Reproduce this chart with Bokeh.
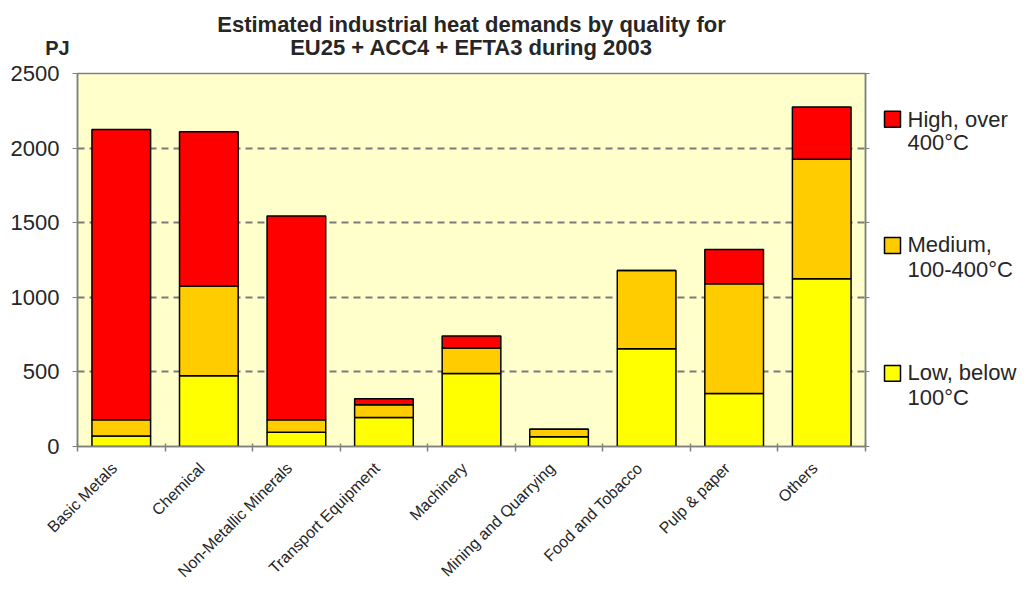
from math import pi

from bokeh.core.properties import value
from bokeh.embed import file_html
from bokeh.layouts import column, row
from bokeh.models import ColumnDataSource, FixedTicker, LinearAxis, Range1d
from bokeh.plotting import figure
from bokeh.resources import INLINE

# Industrial heat demand (PJ) per sector, split by temperature level
sectors = ["Basic Metals", "Chemical", "Non-Metallic Minerals", "Transport Equipment",
           "Machinery", "Mining and Quarrying", "Food and Tobacco", "Pulp & paper", "Others"]
low = [70, 475, 95, 195, 490, 65, 655, 355, 1125]
medium = [110, 600, 85, 85, 170, 50, 525, 735, 800]
high = [1945, 1035, 1365, 40, 80, 0, 0, 230, 350]

y_ticks = [0, 500, 1000, 1500, 2000, 2500]
levels = ["low", "medium", "high"]
level_colors = ["#FFFF00", "#FFCC00", "#FF0000"]

# legend entries, top to bottom
legend_levels = ["high", "medium", "low"]
legend_first = ["High, over", "Medium,", "Low, below"]
legend_second = ["400°C", "100-400°C", "100°C"]

title_lines = ["Estimated industrial heat demands by quality for",
               "EU25 + ACC4 + EFTA3 during 2003"]
unit_label = "PJ"

FONT = "Liberation Sans"
TEXT = "#262626"
GREY = "#808080"

W, H = 1026, 589
HEAD_H = 61            # strip holding the title and unit
MAIN_W = 875           # chart incl. its axes
SIDE_W = W - MAIN_W    # legend strip
BODY_H = H - HEAD_H
TOP, BOTTOM = 12, 141  # borders around the plot frame inside the body row
FRAME_TOP = HEAD_H + TOP
FRAME_BOTTOM = H - BOTTOM
LIFT = 8               # text glyphs sit this much below their anchor; raise them


def blank(width, height, x_range, y_range, **kw):
    """A figure with no axes whose data units are page pixels (y growing downward)."""
    f = figure(width=width, height=height, x_range=x_range, y_range=y_range,
               title=None, output_backend="svg", toolbar_location=None, min_border=0,
               x_axis_type=None, y_axis_type=None, **kw)
    f.grid.visible = False
    f.outline_line_color = None
    f.background_fill_color = "white"
    f.border_fill_color = "white"
    return f


# ---- heading: two-line title centred over the plot area, unit at top left
head = blank(W, HEAD_H, Range1d(0, W), Range1d(HEAD_H, 0))
head.text(x=[471, 471], y=[32 - LIFT, 55 - LIFT], text=title_lines, text_align="center",
          text_baseline="alphabetic", text_font=value(FONT), text_font_size="22px",
          text_font_style="bold", text_color=TEXT)
head.text(x=[57], y=[55 - LIFT], text=[unit_label], text_align="center",
          text_baseline="alphabetic", text_font=value(FONT), text_font_size="20px",
          text_font_style="bold", text_color=TEXT)

# ---- main stacked bar chart
source = ColumnDataSource(dict(x=list(range(len(sectors))), low=low, medium=medium, high=high))

p = figure(width=MAIN_W, height=BODY_H, title=None,
           x_range=Range1d(-0.5, len(sectors) - 0.5), y_range=Range1d(0, 2500),
           output_backend="svg", toolbar_location=None,
           min_border_left=77, min_border_right=10,
           min_border_top=TOP, min_border_bottom=BOTTOM)

p.background_fill_color = "#FFFFCC"
p.border_fill_color = "white"
p.outline_line_color = GREY
p.outline_line_width = 1.5

bars = p.vbar_stack(levels, x="x", width=0.67, source=source,
                    fill_color=level_colors, line_color="black", line_width=1.5)

# value axis
p.yaxis.ticker = FixedTicker(ticks=y_ticks)
p.yaxis.major_label_text_font = FONT
p.yaxis.major_label_text_font_size = "22px"
p.yaxis.major_label_text_color = TEXT
p.yaxis.major_tick_in = 0
p.yaxis.major_tick_out = 5
p.yaxis.major_label_standoff = 13
p.yaxis.minor_tick_line_color = None
p.yaxis.axis_line_color = GREY
p.yaxis.axis_line_width = 1.5
p.yaxis.major_tick_line_color = GREY

p.ygrid.grid_line_color = "#7a7a7a"
p.ygrid.grid_line_dash = "7 5"
p.ygrid.grid_line_width = 2
p.xgrid.grid_line_color = None

# sector axis: slanted names ending just left of each bar centre,
# small tick marks between the bars
label_pos = [i - 0.08 for i in range(len(sectors))]
p.xaxis.ticker = FixedTicker(ticks=label_pos,
                             minor_ticks=[i - 0.5 for i in range(len(sectors) + 1)])
p.xaxis.major_label_overrides = dict(zip(label_pos, sectors))
p.xaxis.major_label_orientation = pi / 4
p.xaxis.major_label_text_font = FONT
p.xaxis.major_label_text_font_size = "16px"
p.xaxis.major_label_text_color = TEXT
p.xaxis.major_label_standoff = 14
p.xaxis.major_tick_line_color = None
p.xaxis.major_tick_in = 0
p.xaxis.major_tick_out = 0
p.xaxis.minor_tick_in = 3
p.xaxis.minor_tick_out = 5
p.xaxis.minor_tick_line_color = GREY
p.xaxis.minor_tick_line_width = 1.5
p.xaxis.axis_line_color = GREY
p.xaxis.axis_line_width = 1.5

# plain tick marks along the right edge of the plot area
right_axis = LinearAxis(ticker=FixedTicker(ticks=y_ticks),
                        major_label_overrides={t: "" for t in y_ticks},
                        major_tick_in=0, major_tick_out=4, major_label_standoff=0,
                        minor_tick_line_color=None, axis_line_color=GREY,
                        axis_line_width=1.5, major_tick_line_color=GREY)
p.add_layout(right_axis, "right")

# ---- legend strip: coloured square, then two lines of text per level
# Same top/bottom borders as the chart, ranges in page pixels of that frame band.
side = blank(SIDE_W, BODY_H, Range1d(MAIN_W, W), Range1d(FRAME_BOTTOM, FRAME_TOP),
             min_border_top=TOP, min_border_bottom=BOTTOM)
colour_of = dict(zip(levels, level_colors))
side.rect(x=[892, 892, 892], y=[119, 246, 374.5], width=16, height=16,
          fill_color=[colour_of[lv] for lv in legend_levels],
          line_color="black", line_width=1.5)
side.text(x=[907, 907, 907], y=[127 - LIFT, 253 - LIFT, 382 - LIFT], text=legend_first,
          text_align="left", text_baseline="alphabetic", text_font=value(FONT),
          text_font_size="22px", text_color=TEXT)
side.text(x=[907, 907, 907], y=[150.5 - LIFT, 278 - LIFT, 407 - LIFT], text=legend_second,
          text_align="left", text_baseline="alphabetic", text_font=value(FONT),
          text_font_size="22px", text_color=TEXT)

layout = column(head, row(p, side))
open("out.html", "w").write(file_html(layout, INLINE))
